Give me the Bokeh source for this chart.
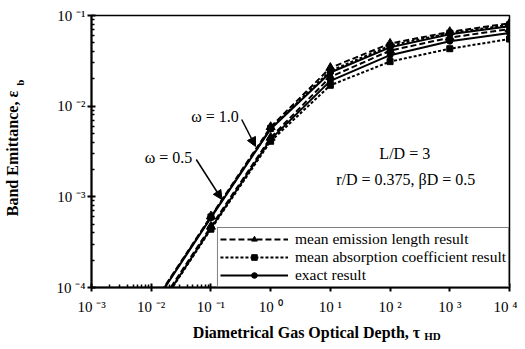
import math
from bokeh.plotting import figure
from bokeh.models import (FixedTicker, CustomJSTickFormatter, Legend, LegendItem,
                          Label, Arrow, NormalHead, LogAxis)
from bokeh.embed import file_html
from bokeh.resources import INLINE

# ---------------- data ----------------
tau = [0.01, 0.1, 1, 10, 100, 1000, 10000]
# omega = 1.0
w10_mel = [6.1e-5, 6.1e-4, 5.9e-3, 0.0265, 0.0490, 0.066, 0.082]
w10_mac = [6.0e-5, 6.0e-4, 5.7e-3, 0.0245, 0.0465, 0.064, 0.079]
w10_exact = [5.9e-5, 5.9e-4, 5.6e-3, 0.0235, 0.0445, 0.062, 0.076]
# omega = 0.5
w05_mel = [4.7e-5, 4.7e-4, 4.5e-3, 0.0210, 0.0410, 0.057, 0.071]
w05_mac = [4.4e-5, 4.4e-4, 4.1e-3, 0.0170, 0.0310, 0.043, 0.055]
w05_exact = [4.5e-5, 4.5e-4, 4.3e-3, 0.0190, 0.0365, 0.052, 0.064]

x_major = [1e-3, 1e-2, 1e-1, 1e0, 1e1, 1e2, 1e3, 1e4]
y_major = [1e-4, 1e-3, 1e-2, 1e-1]
legend_labels = ["mean emission length result",
                 "mean absorption coefficient result",
                 "exact result"]
x_title = "Diametrical Gas Optical Depth,  \u03c4"
x_title_sub = "HD"
y_title = "Band Emittance,  \u03b5"
y_title_sub = "b"

FONT = "Liberation Serif"
W, H = 517, 349
FL, FR, FT, FB = 86, 509, 15, 287          # frame edges on the canvas
ML, MR, MT, MB = FL, W - FR, FT, H - FB
EM, NB = "\u2003", "\u00a0"


def dx(px):
    return 10 ** (-3 + (px - FL) / (FR - FL) * 7)


def dy(py):
    return 10 ** (-1 - (py - FT) / (FB - FT) * 3)


p = figure(width=W, height=H, x_axis_type="log", y_axis_type="log",
           x_range=(1e-3, 1e4), y_range=(1e-4, 1e-1),
           output_backend="svg", toolbar_location=None,
           min_border_left=ML, min_border_right=MR,
           min_border_top=MT, min_border_bottom=MB)
p.background_fill_color = "white"
p.border_fill_color = "white"
p.outline_line_color = "black"
p.outline_line_width = 1.5
p.xgrid.visible = False
p.ygrid.visible = False

x_minor = [k * 10 ** e for e in range(-3, 4) for k in range(2, 10)]
y_minor = [k * 10 ** e for e in range(-4, -1) for k in range(2, 10)]
xax = p.below[0]
yax = p.left[0]
xax.ticker = FixedTicker(ticks=x_major, minor_ticks=x_minor)
yax.ticker = FixedTicker(ticks=y_major, minor_ticks=y_minor)

fmt = CustomJSTickFormatter(code="""
const e = Math.round(Math.log10(tick));
const sup = {"-": "\u207b", "0": "\u2070", "1": "\u00b9", "2": "\u00b2",
             "3": "\u00b3", "4": "\u2074"};
let s = "";
for (const c of String(e)) s += sup[c];
return "10 " + s;
""")
for ax in (xax, yax):
    ax.formatter = fmt
    ax.axis_line_width = 2
    ax.axis_line_color = "black"
    ax.major_tick_line_color = "black"
    ax.minor_tick_line_color = "black"
    ax.major_tick_line_width = 2
    ax.minor_tick_line_width = 1.5
    ax.major_tick_out = 4
    ax.major_tick_in = 4
    ax.minor_tick_out = 0
    ax.minor_tick_in = 3
    ax.major_label_text_font = FONT
    ax.major_label_text_font_size = "15px"
    ax.major_label_text_color = "black"
xax.major_label_standoff = 7
yax.major_label_standoff = 2


def title_axis(text, size, standoff):
    return LogAxis(ticker=FixedTicker(ticks=[]),
                   axis_label=text, axis_label_text_font=FONT,
                   axis_label_text_font_size=size,
                   axis_label_text_font_style="bold",
                   axis_label_text_color="black",
                   axis_label_standoff=standoff,
                   axis_line_color=None, major_tick_line_color=None,
                   minor_tick_line_color=None, major_tick_out=0, major_tick_in=0,
                   minor_tick_out=0, minor_tick_in=0, major_label_standoff=0,
                   major_label_text_font_size="0px")

# x-axis title and its subscript (stacked below the tick labels);
# leading spaces shift the centred labels to their place
p.add_layout(title_axis(EM + x_title, "16px", 6), "below")
p.add_layout(title_axis(EM * 24 + x_title_sub, "11px", -14), "below")
# y-axis subscript then title (stacked left of the tick labels)
p.add_layout(title_axis(EM * 12 + NB * 2 + y_title_sub, "11px", 28), "left")
p.add_layout(title_axis(y_title, "16px", -10), "left")

# ---------------- curves ----------------
styles = [("6 3", "triangle", 9), ("3 2", "square", 6), ("solid", "circle", 6)]
sets = {
    "w10": [w10_mel, w10_mac, w10_exact],
    "w05": [w05_mel, w05_mac, w05_exact],
}
legend_items = []
for key, series in sets.items():
    for i, vals in enumerate(series):
        dash, marker, size = styles[i]
        lr = p.line(tau, vals, line_color="black", line_width=2, line_dash=dash)
        mr = p.scatter(tau[1:], vals[1:], marker=marker, size=size,
                       fill_color="black", line_color="black")
        if key == "w10":
            legend_items.append(LegendItem(label=legend_labels[i], renderers=[lr, mr]))

legend = Legend(items=legend_items, location="bottom_right", margin=0,
                padding=2, spacing=0, glyph_width=68, glyph_height=14,
                label_height=14, label_standoff=7,
                label_text_font=FONT, label_text_font_size="15.5px",
                label_text_color="black",
                border_line_color="black", border_line_width=1.5,
                background_fill_color="white", background_fill_alpha=1.0)
p.add_layout(legend, "center")

# ---------------- annotations ----------------
def lab(text, px, py, size="16px"):
    p.add_layout(Label(x=dx(px), y=dy(py), text=text, text_font=FONT,
                       text_font_size=size, text_align="center",
                       text_baseline="middle", text_color="black"))

lab("\u03c9 = 1.0", 211, 116)
lab("\u03c9 = 0.5", 164, 157)
lab("L/D = 3", 403, 153)
lab("r/D = 0.375, \u03b2D = 0.5", 404, 179)

head = dict(size=9, fill_color="black", line_color="black")
p.add_layout(Arrow(end=NormalHead(**head), x_start=dx(238), y_start=dy(119),
                   x_end=dx(252), y_end=dy(146), line_width=1.5, line_color="black"))
p.add_layout(Arrow(end=NormalHead(**head), x_start=dx(192), y_start=dy(159),
                   x_end=dx(218), y_end=dy(199), line_width=1.5, line_color="black"))

open("out.html", "w").write(file_html(p, INLINE))
